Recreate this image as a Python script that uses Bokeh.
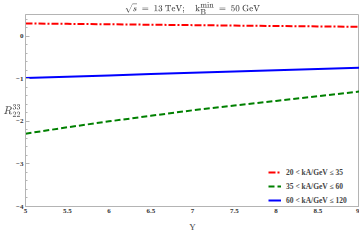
from bokeh.plotting import figure
from bokeh.models import (SingleIntervalTicker, Legend, LegendItem,
                          FixedTicker, ColumnDataSource)
from bokeh.embed import file_html
from bokeh.resources import INLINE

# data
rapidity = [5.0, 5.5, 6.0, 6.5, 7.0, 7.5, 8.0, 8.5, 9.0]
r_20_35 = [0.30, 0.29, 0.28, 0.27, 0.26, 0.25, 0.24, 0.23, 0.22]
r_35_60 = [-2.29, -2.14, -2.00, -1.87, -1.74, -1.63, -1.52, -1.41, -1.30]
r_60_120 = [-0.98, -0.95, -0.92, -0.89, -0.86, -0.83, -0.80, -0.77, -0.74]
labels = ["20 < kA/GeV ≤ 35", "35 < kA/GeV ≤ 60", "60 < kA/GeV ≤ 120"]
x_ticks = [5, 5.5, 6, 6.5, 7, 7.5, 8, 8.5, 9]
y_ticks = [-4, -3, -2, -1, 0]

FONT = "Liberation Serif"
GRAY = "#b4b4b4"

p = figure(width=359, height=234, x_range=(5, 9), y_range=(-4, 0.51),
           output_backend="svg", toolbar_location=None,
           min_border_left=0, min_border_right=0, min_border_top=9, min_border_bottom=24,
           outline_line_color=GRAY, x_axis_label="Y")

p.title.text = r"$$\sqrt{s}\ =\ 13\ \mathrm{TeV};\quad \mathrm{k_B^{min}}\ =\ 50\ \mathrm{GeV}$$"
p.title.align = "center"
p.title.text_font = FONT
p.title.text_font_size = "9px"
p.title.text_font_style = "normal"
p.title.standoff = 0

p.xgrid.visible = False
p.ygrid.visible = False

src = ColumnDataSource(dict(x=rapidity, a=r_20_35, b=r_35_60, c=r_60_120))
l1 = p.line("x", "a", source=src, line_color="#ff0000", line_width=2, line_dash="7 2 2 2")
l2 = p.line("x", "b", source=src, line_color="#008000", line_width=2, line_dash="6 3")
l3 = p.line("x", "c", source=src, line_color="#0000ff", line_width=2)

for ax in (p.xaxis[0], p.yaxis[0]):
    ax.axis_line_color = GRAY
    ax.major_tick_line_color = GRAY
    ax.minor_tick_line_color = GRAY
    ax.major_tick_in = 4
    ax.major_tick_out = 0
    ax.minor_tick_in = 2
    ax.minor_tick_out = 0
    ax.major_label_text_font = FONT
    ax.major_label_text_font_size = "7px"
    ax.major_label_text_font_style = "bold"
    ax.major_label_text_color = "#333333"
    ax.major_label_standoff = 2

p.xaxis[0].ticker = FixedTicker(ticks=x_ticks)
p.xaxis[0].major_tick_in = 0
p.xaxis[0].minor_tick_in = 0
p.xaxis[0].axis_label_text_font = FONT
p.xaxis[0].axis_label_text_font_size = "9px"
p.xaxis[0].axis_label_text_font_style = "normal"
p.xaxis[0].axis_label_standoff = 6

yax = p.yaxis[0]
yax.ticker = SingleIntervalTicker(interval=1, num_minor_ticks=5)
yax.major_label_overrides = {-4: "−4", -3: "−3", -2: "−2", -1: "−1", 0: "0"}
yax.axis_label = r"$$R_{22}^{33}$$"
yax.axis_label_orientation = "horizontal"
yax.axis_label_text_font_size = "9px"
yax.axis_label_text_color = "#555555"
yax.axis_label_standoff = -8

legend = Legend(items=[LegendItem(label=labels[0], renderers=[l1]),
                       LegendItem(label=labels[1], renderers=[l2]),
                       LegendItem(label=labels[2], renderers=[l3])],
                location="bottom_right", border_line_color=None, background_fill_alpha=0,
                label_text_font=FONT, label_text_font_size="7.5px", label_text_font_style="bold",
                glyph_width=13, glyph_height=10, spacing=4, label_standoff=5,
                margin=0, padding=0)
legend.location = (243, 1)
p.add_layout(legend, "center")

open("out.html", "w").write(file_html(p, INLINE))
